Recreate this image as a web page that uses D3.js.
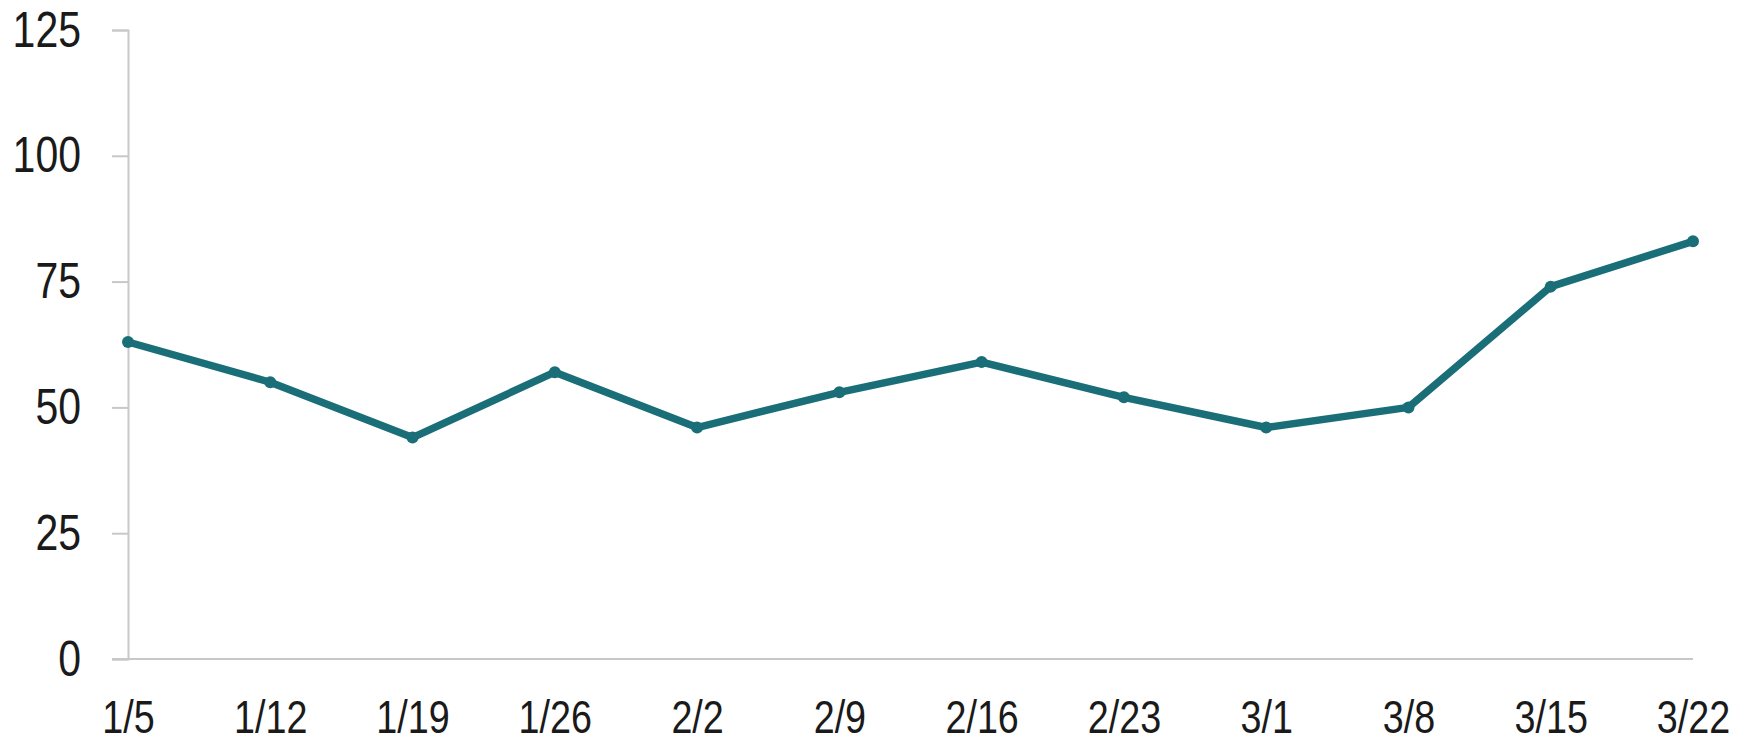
<!DOCTYPE html>
<html>
<head>
<meta charset="utf-8">
<script src="https://cdn.jsdelivr.net/npm/d3@7"></script>
<style>
  body { margin: 0; background: #fff; }
  text { font-family: "Liberation Sans Narrow", "Arial Narrow", "Liberation Sans", sans-serif; fill: #1a1a1a; }
</style>
</head>
<body>
<div id="chart"></div>
<script>
const categories = ["1/5", "1/12", "1/19", "1/26", "2/2", "2/9", "2/16", "2/23", "3/1", "3/8", "3/15", "3/22"];
const values = [63, 55, 44, 57, 46, 53, 59, 52, 46, 50, 74, 83];
const yTicks = [0, 25, 50, 75, 100, 125];

var width = 1753, height = 748;
var margin = {top: 30, right: 60, bottom: 89, left: 128};
var narrow = 0.82; // squeeze text to look like Arial Narrow

var svg = d3.select("#chart")
  .append("svg")
  .attr("width", width)
  .attr("height", height);

var x = d3.scalePoint()
  .domain(categories)
  .range([margin.left, width - margin.right]);

var y = d3.scaleLinear()
  .domain([0, 125])
  .range([height - margin.bottom, margin.top]);

// y axis
var yAxis = svg.append("g")
  .attr("transform", "translate(" + margin.left + ",0)")
  .call(d3.axisLeft(y).tickValues(yTicks).tickSize(16).tickPadding(31));
yAxis.select(".domain").attr("stroke", "#c8c8c8").attr("stroke-width", 2);
yAxis.selectAll(".tick line").attr("stroke", "#c8c8c8").attr("stroke-width", 2);
yAxis.selectAll(".tick text")
  .attr("x", -47 / narrow)
  .attr("transform", "scale(" + narrow + ",1)")
  .style("font-size", "50px");

// x axis
var xAxis = svg.append("g")
  .attr("transform", "translate(0," + y(0) + ")")
  .call(d3.axisBottom(x).tickSize(0).tickPadding(41));
xAxis.select(".domain")
  .attr("d", "M" + (margin.left - 16) + ",0H" + (width - margin.right))
  .attr("stroke", "#c8c8c8").attr("stroke-width", 2);
xAxis.selectAll(".tick text")
  .attr("transform", "scale(" + narrow + ",1)")
  .style("font-size", "46px");

// series line
var line = d3.line()
  .x(function(d, i) { return x(categories[i]); })
  .y(function(d) { return y(d); });

svg.append("path")
  .datum(values)
  .attr("fill", "none")
  .attr("stroke", "#1a6e78")
  .attr("stroke-width", 7.5)
  .attr("stroke-linejoin", "round")
  .attr("d", line);

svg.selectAll(".dot")
  .data(values)
  .enter()
  .append("circle")
  .attr("class", "dot")
  .attr("cx", function(d, i) { return x(categories[i]); })
  .attr("cy", function(d) { return y(d); })
  .attr("r", 6)
  .attr("fill", "#1a6e78");
</script>
</body>
</html>
